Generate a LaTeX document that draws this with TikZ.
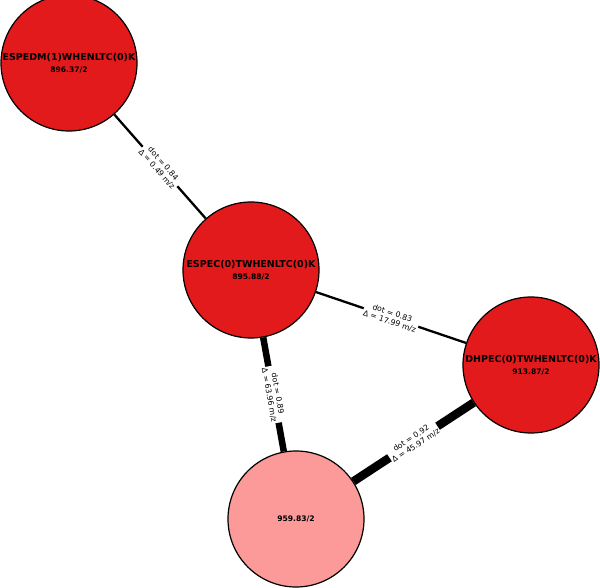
\documentclass[tikz,border=0pt]{standalone}
\usepackage{fontspec}
\setmainfont{DejaVu Sans}
\definecolor{nred}{RGB}{227,26,28}
\definecolor{npink}{RGB}{251,154,153}
\newcommand{\nm}{\fontsize{9.5}{11}\selectfont}
\newcommand{\vl}{\fontsize{7.6}{11}\selectfont}
\tikzset{
  spec/.style={circle, draw=black, line width=1.2pt, minimum size=136pt, inner sep=0pt, align=center,
               font=\bfseries},
  link/.style={draw=black},
  lbl/.style={sloped, fill=white, inner sep=1pt, align=center, font=\fontsize{7.7}{8.6}\selectfont}
}
\begin{document}
\begin{tikzpicture}[x=1pt,y=-1pt]
\useasboundingbox (0,0) rectangle (600,588);
\node[spec, fill=nred] (a) at (69,63) {\nm ESPEDM(1)WHENLTC(0)K\\\vl 896.37/2};
\node[spec, fill=nred] (b) at (251,270) {\nm ESPEC(0)TWHENLTC(0)K\\\vl 895.88/2};
\node[spec, fill=nred] (c) at (531,365) {\nm DHPEC(0)TWHENLTC(0)K\\\vl 913.87/2};
\node[spec, fill=npink] (d) at (296,519) {\vl 959.83/2};
\draw[link, line width=2.3pt] (a) -- node[lbl] {dot = 0.84\\Δ = 0.49 m/z} (b);
\draw[link, line width=2.3pt] (b) -- node[lbl] {dot = 0.83\\Δ = 17.99 m/z} (c);
\draw[link, line width=6.5pt] (b) -- node[lbl] {dot = 0.89\\Δ = 63.96 m/z} (d);
\draw[link, line width=8.5pt] (d) -- node[lbl] {dot = 0.92\\Δ = 45.97 m/z} (c);
\end{tikzpicture}
\end{document}
